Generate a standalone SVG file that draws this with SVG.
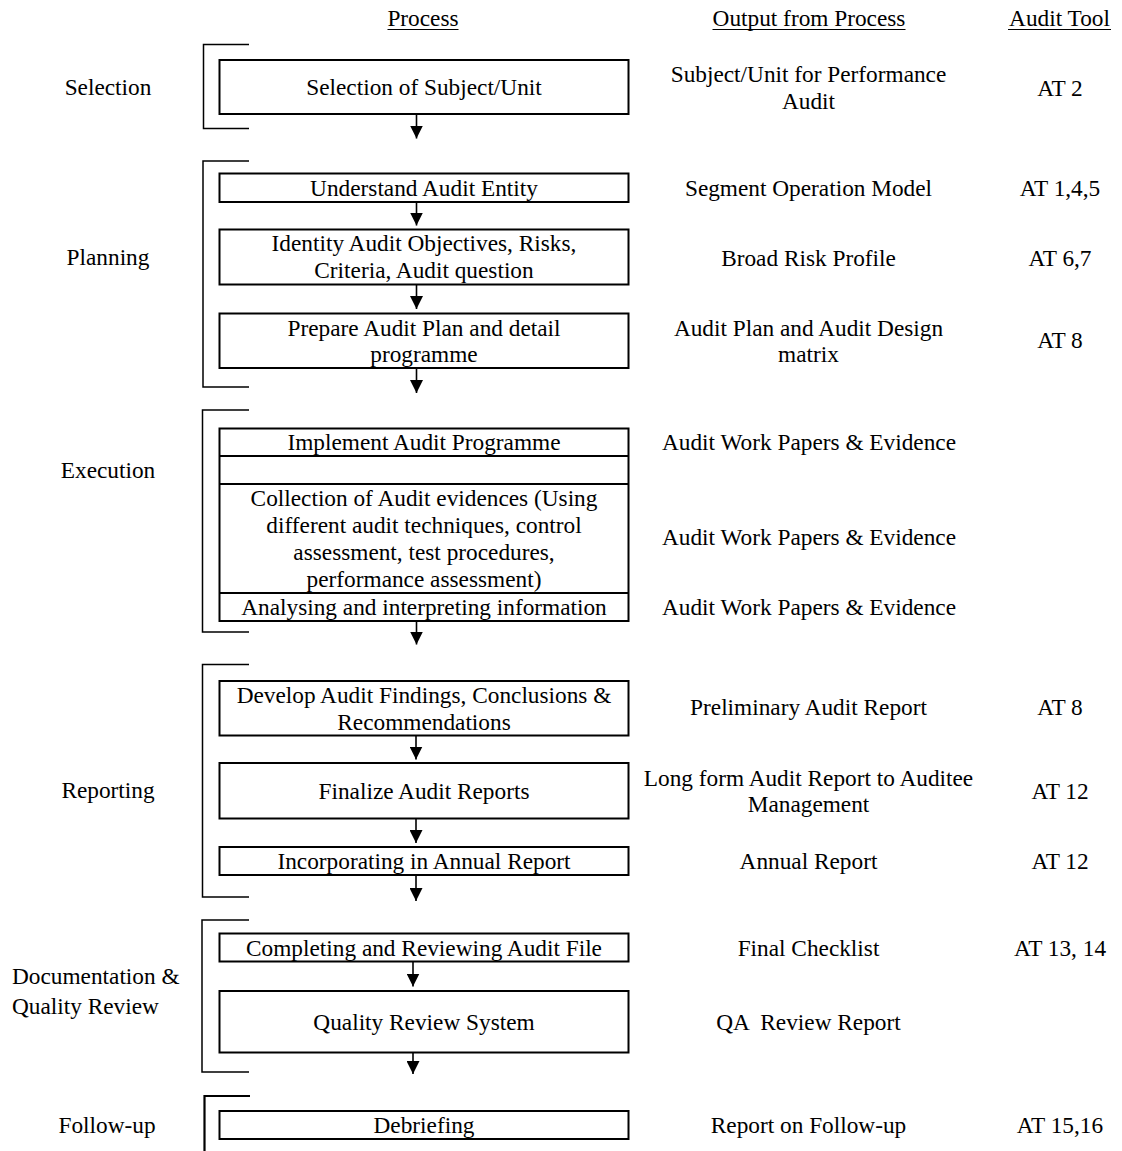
<svg xmlns="http://www.w3.org/2000/svg" width="1122" height="1151" viewBox="0 0 1122 1151">
<style>
text{font-family:"Liberation Serif","Times New Roman",serif;font-size:23.3px;fill:#000}
.c{text-anchor:middle}
.box{fill:#fff;stroke:#000;stroke-width:2}
.br{fill:none;stroke:#000;stroke-width:1.5}
.ln{fill:none;stroke:#000;stroke-width:1.6}
.ul{stroke:#000;stroke-width:1.2}
</style>
<defs>
<marker id="ah" viewBox="0 0 13 13" refX="13" refY="6.5" markerWidth="13" markerHeight="13" markerUnits="userSpaceOnUse" orient="auto">
<path d="M0,0 L13,6.5 L0,13 Z" fill="#000"/>
</marker>
</defs>
<rect width="1122" height="1151" fill="#fff"/>

<g id="headers">
<text class="c" x="423" y="26">Process</text>
<line class="ul" x1="387.5" y1="29.5" x2="458.5" y2="29.5"/>
<text class="c" x="809" y="26">Output from Process</text>
<line class="ul" x1="712.5" y1="29.5" x2="905.5" y2="29.5"/>
<text class="c" x="1059.5" y="26">Audit Tool</text>
<line class="ul" x1="1008" y1="29.5" x2="1111" y2="29.5"/>
</g>

<g id="phase-labels">
<text class="c" x="108" y="94.5">Selection</text>
<text class="c" x="108" y="265">Planning</text>
<text class="c" x="108" y="478">Execution</text>
<text class="c" x="108" y="798">Reporting</text>
<text x="12" y="984">Documentation &amp;</text>
<text x="12" y="1014">Quality Review</text>
<text class="c" x="107" y="1133">Follow-up</text>
</g>

<g id="brackets">
<path class="br" d="M249,44.5 H203.5 V128.5 H249"/>
<path class="br" d="M249,161 H203 V387 H249"/>
<path class="br" d="M249,410 H202.5 V632 H249"/>
<path class="br" d="M249,664.5 H202.5 V897 H249"/>
<path class="br" d="M249,920 H202 V1072 H249"/>
<path class="br" d="M250,1096 H204.5 V1151" style="stroke-width:2.2"/>
</g>

<g id="connectors">
<line class="ln" x1="416.5" y1="114" x2="416.5" y2="138.5" marker-end="url(#ah)"/>
<line class="ln" x1="416.5" y1="202" x2="416.5" y2="225.5" marker-end="url(#ah)"/>
<line class="ln" x1="416.5" y1="284.5" x2="416.5" y2="309" marker-end="url(#ah)"/>
<line class="ln" x1="416.5" y1="368" x2="416.5" y2="393" marker-end="url(#ah)"/>
<line class="ln" x1="416.5" y1="621" x2="416.5" y2="644.5" marker-end="url(#ah)"/>
<line class="ln" x1="416" y1="735.5" x2="416" y2="759.5" marker-end="url(#ah)"/>
<line class="ln" x1="416" y1="818.5" x2="416" y2="843" marker-end="url(#ah)"/>
<line class="ln" x1="416" y1="875" x2="416" y2="901" marker-end="url(#ah)"/>
<line class="ln" x1="413" y1="961.5" x2="413" y2="986.5" marker-end="url(#ah)"/>
<line class="ln" x1="413" y1="1052.5" x2="413" y2="1074" marker-end="url(#ah)"/>
</g>

<g id="node-selection">
<rect class="box" x="219.5" y="60" width="409" height="54"/>
<text class="c" x="424" y="95">Selection of Subject/Unit</text>
<text class="c" x="808.5" y="81.5">Subject/Unit for Performance</text>
<text class="c" x="808.5" y="108.5">Audit</text>
<text class="c" x="1060" y="96">AT 2</text>
</g>

<g id="node-understand">
<rect class="box" x="219.5" y="173.5" width="409" height="28.5"/>
<text class="c" x="424" y="196">Understand Audit Entity</text>
<text class="c" x="808.5" y="195.5">Segment Operation Model</text>
<text class="c" x="1060" y="195.5">AT 1,4,5</text>
</g>

<g id="node-identity">
<rect class="box" x="219.5" y="229.5" width="409" height="55"/>
<text class="c" x="424" y="251">Identity Audit Objectives, Risks,</text>
<text class="c" x="424" y="278">Criteria, Audit question</text>
<text class="c" x="808.5" y="266">Broad Risk Profile</text>
<text class="c" x="1060" y="266">AT 6,7</text>
</g>

<g id="node-prepare">
<rect class="box" x="219.5" y="313.5" width="409" height="54.5"/>
<text class="c" x="424" y="335.5">Prepare Audit Plan and detail</text>
<text class="c" x="424" y="362">programme</text>
<text class="c" x="808.5" y="335.5">Audit Plan and Audit Design</text>
<text class="c" x="808.5" y="362">matrix</text>
<text class="c" x="1060" y="348">AT 8</text>
</g>

<g id="node-execution">
<rect class="box" x="219.5" y="428.5" width="409" height="192.5"/>
<line class="box" x1="219.5" y1="456" x2="628.5" y2="456"/>
<line class="box" x1="219.5" y1="484" x2="628.5" y2="484"/>
<line class="box" x1="219.5" y1="593" x2="628.5" y2="593"/>
<text class="c" x="424" y="450">Implement Audit Programme</text>
<text class="c" x="424" y="506">Collection of Audit evidences (Using</text>
<text class="c" x="424" y="533">different audit techniques, control</text>
<text class="c" x="424" y="560">assessment, test procedures,</text>
<text class="c" x="424" y="587">performance assessment)</text>
<text class="c" x="424" y="614.5">Analysing and interpreting information</text>
<text class="c" x="809" y="450">Audit Work Papers &amp; Evidence</text>
<text class="c" x="809" y="545">Audit Work Papers &amp; Evidence</text>
<text class="c" x="809" y="614.5">Audit Work Papers &amp; Evidence</text>
</g>

<g id="node-develop">
<rect class="box" x="219.5" y="681" width="409" height="54.5"/>
<text class="c" x="424" y="702.5">Develop Audit Findings, Conclusions &amp;</text>
<text class="c" x="424" y="729.5">Recommendations</text>
<text class="c" x="808.5" y="715">Preliminary Audit Report</text>
<text class="c" x="1060" y="715">AT 8</text>
</g>

<g id="node-finalize">
<rect class="box" x="219.5" y="763" width="409" height="55.5"/>
<text class="c" x="424" y="798.5">Finalize Audit Reports</text>
<text class="c" x="808.5" y="786">Long form Audit Report to Auditee</text>
<text class="c" x="808.5" y="811.5">Management</text>
<text class="c" x="1060" y="798.5">AT 12</text>
</g>

<g id="node-incorporating">
<rect class="box" x="219.5" y="847" width="409" height="28"/>
<text class="c" x="424" y="869">Incorporating in Annual Report</text>
<text class="c" x="808.5" y="868.5">Annual Report</text>
<text class="c" x="1060" y="868.5">AT 12</text>
</g>

<g id="node-completing">
<rect class="box" x="219.5" y="933.5" width="409" height="28"/>
<text class="c" x="424" y="955.5">Completing and Reviewing Audit File</text>
<text class="c" x="808.5" y="955.5">Final Checklist</text>
<text class="c" x="1060" y="955.5">AT 13, 14</text>
</g>

<g id="node-quality">
<rect class="box" x="219.5" y="991" width="409" height="61.5"/>
<text class="c" x="424" y="1029.5">Quality Review System</text>
<text class="c" x="808.5" y="1029.5" xml:space="preserve">QA  Review Report</text>
</g>

<g id="node-debriefing">
<rect class="box" x="219.5" y="1111" width="409" height="28"/>
<text class="c" x="424" y="1133">Debriefing</text>
<text class="c" x="808.5" y="1133">Report on Follow-up</text>
<text class="c" x="1060" y="1133">AT 15,16</text>
</g>
</svg>
